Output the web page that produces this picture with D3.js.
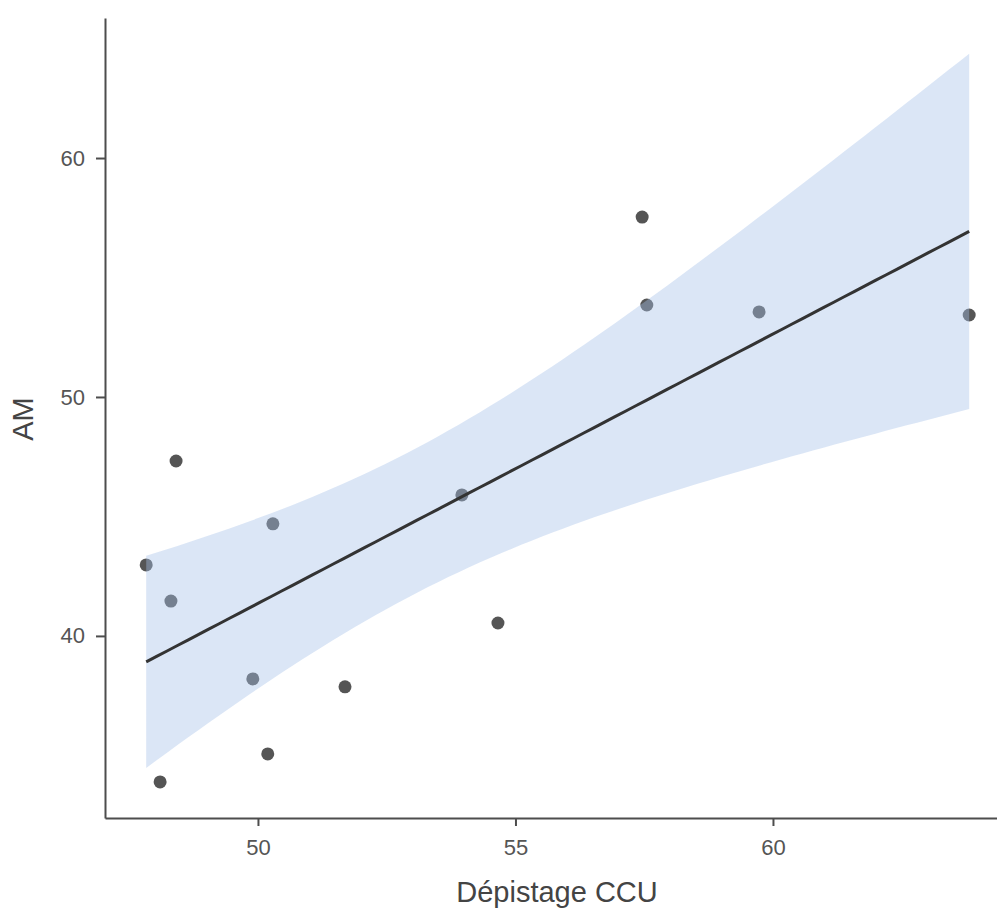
<!DOCTYPE html>
<meta charset="utf-8">
<style>
body { margin: 0; background: #fff; }
text { font-family: "Liberation Sans", Arial, sans-serif; }
.axis path, .axis line { stroke: #4d4d4d; stroke-width: 2px; }
.axis text { fill: #555555; font-size: 22px; }
</style>
<svg width="997" height="909"></svg>
<script src="https://d3js.org/d3.v7.min.js"></script>
<script>

// Dépistage CCU (x) vs AM (y)
var depistage = [47.83, 48.41, 48.31, 48.10, 50.29, 49.90, 50.19, 51.69, 53.96, 54.66, 57.46, 57.55, 59.73, 63.81];
var am        = [42.97, 47.32, 41.46, 33.89, 44.69, 38.20, 35.06, 37.87, 45.90, 40.54, 57.53, 53.85, 53.56, 53.43];
var xTicks = [50, 55, 60];
var yTicks = [40, 50, 60];

var svg = d3.select("svg");

var x = d3.scaleLinear().domain([47.03, 64.35]).range([105, 997]);
var y = d3.scaleLinear().domain([32.38, 65.86]).range([818, 18]);

var pts = depistage.map(function(d, i) { return {x: d, y: am[i]}; });

// linear fit with 95% confidence band
var n = pts.length,
    mx = d3.mean(depistage),
    my = d3.mean(am),
    sxx = d3.sum(depistage, function(d) { return (d - mx) * (d - mx); }),
    sxy = d3.sum(pts, function(p) { return (p.x - mx) * (p.y - my); }),
    b = sxy / sxx,
    a = my - b * mx,
    rss = d3.sum(pts, function(p) { var r = p.y - (a + b * p.x); return r * r; }),
    s = Math.sqrt(rss / (n - 2)),
    tq = 2.178813; // t(0.975, df = 12)

var xmin = d3.min(depistage), xmax = d3.max(depistage);
var band = d3.range(80).map(function(i) {
  var xv = xmin + (xmax - xmin) * i / 79,
      fit = a + b * xv,
      se = s * Math.sqrt(1 / n + (xv - mx) * (xv - mx) / sxx);
  return {x: xv, fit: fit, lo: fit - tq * se, hi: fit + tq * se};
});

svg.append("g")
  .selectAll("circle")
  .data(pts)
  .enter().append("circle")
    .attr("cx", function(d) { return x(d.x); })
    .attr("cy", function(d) { return y(d.y); })
    .attr("r", 6.5)
    .attr("fill", "#555555");

svg.append("path")
    .datum(band)
    .attr("fill", "rgb(165,192,232)")
    .attr("fill-opacity", 0.4)
    .attr("d", d3.area()
      .x(function(d) { return x(d.x); })
      .y0(function(d) { return y(d.lo); })
      .y1(function(d) { return y(d.hi); }));

svg.append("path")
    .datum(band)
    .attr("fill", "none")
    .attr("stroke", "#333333")
    .attr("stroke-width", 3)
    .attr("d", d3.line()
      .x(function(d) { return x(d.x); })
      .y(function(d) { return y(d.fit); }));

svg.append("g")
    .attr("class", "axis")
    .attr("transform", "translate(0,818)")
    .call(d3.axisBottom(x).tickValues(xTicks).tickSize(8).tickSizeOuter(0).tickPadding(13));

svg.append("g")
    .attr("class", "axis")
    .attr("transform", "translate(105,0)")
    .call(d3.axisLeft(y).tickValues(yTicks).tickSize(9).tickSizeOuter(0).tickPadding(11));

svg.append("text")
    .attr("x", 557)
    .attr("y", 902)
    .attr("text-anchor", "middle")
    .attr("font-size", 29)
    .attr("fill", "#444444")
    .text("Dépistage CCU");

svg.append("text")
    .attr("transform", "translate(33,419) rotate(-90)")
    .attr("text-anchor", "middle")
    .attr("font-size", 29)
    .attr("fill", "#444444")
    .text("AM");

</script>
